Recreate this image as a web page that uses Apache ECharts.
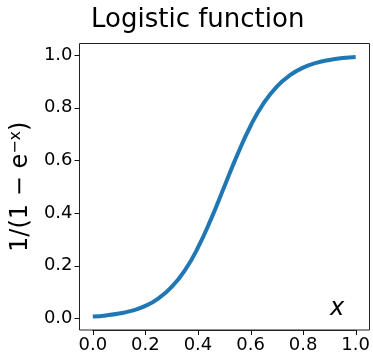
<!DOCTYPE html>
<html>
<head>
<meta charset="utf-8">
<script src="https://cdn.jsdelivr.net/npm/echarts@6/dist/echarts.min.js"></script>
<style>
html, body { margin: 0; padding: 0; background: #fff; }
#chart { width: 373px; height: 355px; }
</style>
</head>
<body>
<div id="chart"></div>
<script>
// values
const xValues = [0, 0.05, 0.1, 0.15, 0.2, 0.25, 0.3, 0.35, 0.4, 0.45, 0.5,
  0.55, 0.6, 0.65, 0.7, 0.75, 0.8, 0.85, 0.9, 0.95, 1.0]
const yValues = [0.0067, 0.011, 0.018, 0.029, 0.047, 0.076, 0.119, 0.182, 0.269, 0.378, 0.5,
  0.622, 0.731, 0.818, 0.881, 0.924, 0.953, 0.971, 0.982, 0.989, 0.993]
const xTicks = [0, 0.2, 0.4, 0.6, 0.8, 1.0]
const yTicks = [0, 0.2, 0.4, 0.6, 0.8, 1.0]

const font = 'DejaVu Sans'
const xOffset = 11.7
const yOffset = 13.3
const chart = echarts.init(document.getElementById('chart'))
const points = xValues.map((x, i) => [x, yValues[i]])

// outward tick marks on the frame, placed through the axis scales
function xTick (params, api) {
  const p = api.coord([api.value(0), 0])
  const cs = params.coordSys
  const yb = cs.y + cs.height + xOffset
  const x = Math.round(p[0]) + 0.5
  return { type: 'line', shape: { x1: x, y1: yb, x2: x, y2: yb + 5 }, style: { stroke: '#111', lineWidth: 1 }, z2: 100 }
}
function yTick (params, api) {
  const p = api.coord([0, api.value(1)])
  const cs = params.coordSys
  const xl = cs.x - yOffset
  const y = Math.round(p[1]) + 0.5
  return { type: 'line', shape: { x1: xl - 5, y1: y, x2: xl, y2: y }, style: { stroke: '#111', lineWidth: 1 }, z2: 100 }
}

// data area spans 0..1 on both axes, the frame is drawn around it with matplotlib-like margins
chart.setOption({
  animation: false,
  title: {
    text: 'Logistic function',
    left: 86,
    top: 2,
    textStyle: { fontFamily: font, fontSize: 26, fontWeight: 'normal', color: '#000' }
  },
  grid: { left: 92.3, right: 16.3, top: 55.2, bottom: 36.7 },
  xAxis: {
    type: 'value',
    min: 0,
    max: 1,
    interval: 0.2,
    offset: xOffset,
    splitLine: { show: false },
    axisLine: { show: true, onZero: false, lineStyle: { color: '#222', width: 1 } },
    axisTick: { show: false },
    axisLabel: {
      margin: 6,
      fontFamily: font, fontSize: 18, color: '#000',
      formatter: v => v.toFixed(1)
    }
  },
  yAxis: {
    type: 'value',
    min: 0,
    max: 1,
    interval: 0.2,
    offset: yOffset,
    splitLine: { show: false },
    axisLine: { show: true, onZero: false, lineStyle: { color: '#222', width: 1 } },
    axisTick: { show: false },
    axisLabel: {
      margin: 7,
      fontFamily: font, fontSize: 18, color: '#000',
      formatter: v => v.toFixed(1)
    },
    name: '1/(1 − e{sup|−x})',
    nameLocation: 'middle',
    nameGap: 45,
    nameTextStyle: {
      fontFamily: font, fontSize: 24, color: '#000',
      rich: { sup: { fontFamily: font, fontSize: 16, verticalAlign: 'top', padding: [0, 0, 10, 0] } }
    }
  },
  graphic: [{
    type: 'rect',
    shape: { x: 79.5, y: 43.5, width: 290, height: 286.5 },
    style: { fill: null, stroke: '#222', lineWidth: 1 },
    z: 10
  }, {
    type: 'text',
    left: 330,
    top: 297,
    style: { text: 'x', font: 'italic 24px "DejaVu Sans"', fill: '#000' }
  }],
  series: [{
    type: 'line',
    data: points,
    smooth: true,
    showSymbol: false,
    lineStyle: { color: '#1f77b4', width: 4 }
  }, {
    type: 'custom',
    silent: true,
    clip: false,
    z: 20,
    renderItem: xTick,
    data: xTicks.map(v => [v, 0])
  }, {
    type: 'custom',
    silent: true,
    clip: false,
    z: 20,
    renderItem: yTick,
    data: yTicks.map(v => [0, v])
  }]
})
</script>
</body>
</html>
